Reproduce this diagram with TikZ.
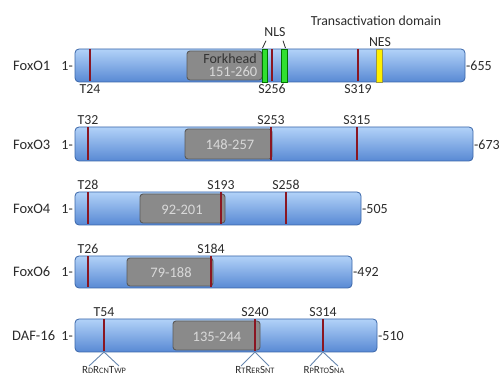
\documentclass[tikz,border=0pt]{standalone}
\usepackage{fontspec}
\setmainfont{Carlito}
\definecolor{barhi}{HTML}{B2D2F8}
\definecolor{barlo}{HTML}{5889D4}
\definecolor{barline}{HTML}{3A66A8}
\definecolor{fkfill}{HTML}{8A8A8A}
\definecolor{fkline}{HTML}{5A5A5A}
\definecolor{phos}{HTML}{8A1622}
\definecolor{nlsgreen}{HTML}{30E030}
\definecolor{nesyellow}{HTML}{FFF000}
\definecolor{motifblue}{HTML}{6787AE}
\definecolor{txt}{HTML}{2B2B2B}
\def\sm#1{{\fontsize{8.3}{8.3}\selectfont #1}}

\tikzset{
	protein/.style={draw=barline, line width=0.8pt, rounded corners=4pt, top color=barhi, bottom color=barlo},
	forkhead/.style={draw=fkline, line width=0.9pt, fill=fkfill, rounded corners=3pt},
	phosbar/.style={draw=phos, line width=2.8pt},
	nlsbox/.style={fill=nlsgreen, draw=green!45!black, line width=0.4pt},
	nesbox/.style={fill=nesyellow, draw=yellow!55!black, line width=0.4pt},
	protname/.style={anchor=west, inner sep=0pt, text=txt, font=\fontsize{14.5}{15}\selectfont},
	endlabel/.style={inner sep=0pt, text=txt, font=\fontsize{14}{14}\selectfont},
	sitelabel/.style={inner sep=1pt, text=txt, font=\fontsize{13.8}{14}\selectfont},
	rangetext/.style={inner sep=0pt, text=black!15, font=\fontsize{14.5}{15}\selectfont},
	motiflabel/.style={anchor=north, inner sep=0.5pt, text=txt, font=\fontsize{11}{11}\selectfont},
	motifline/.style={draw=motifblue, line width=0.9pt}
}

\begin{document}
\begin{tikzpicture}[x=1pt, y=-1pt]
		\useasboundingbox (0, 0) rectangle (501, 379);
		
		%%%%% FoxO1 %%%%%
		\node[protname] (nameA) at (13, 66) {FoxO1};
		\node[endlabel, anchor=east] (startA) at (73, 66) {1-};
		\draw[protein] (75, 49) rectangle (465, 82);
		\node[endlabel, anchor=west] (endA) at (466, 66) {-655};
		\draw[forkhead] (187, 51) rectangle (262, 80);
		\node[rangetext, text=black!80, font=\fontsize{14}{14}\selectfont] (fkA) at (230, 58.5) {Forkhead};
		\node[rangetext] (rangeA) at (233, 72) {151-260};
		\draw[nlsbox] (262, 49) rectangle (267, 82);
		\draw[nlsbox] (281, 49) rectangle (287, 82);
		\draw[nesbox] (376, 49) rectangle (382, 82);
		\draw[phosbar] (90, 49.5) -- (90, 81.5);
		\draw[phosbar] (272, 49.5) -- (272, 81.5);
		\draw[phosbar] (358, 49.5) -- (358, 81.5);
		\node[sitelabel, anchor=north] (tA) at (90, 83) {T24};
		\node[sitelabel, anchor=north] (sA) at (272, 83) {S256};
		\node[sitelabel, anchor=north] (sB) at (358, 83) {S319};
		
		\node[sitelabel] (trans) at (376, 21) {Transactivation domain};
		\node[sitelabel] (nes) at (380, 42) {NES};
		\node[sitelabel] (nls) at (275, 32) {NLS};
		\coordinate (nlsL) at (262.5, 48);
		\coordinate (nlsR) at (285.5, 48);
		\draw[line width=0.8pt, txt] ([xshift=-9pt, yshift=-3pt]nls.south) -- (nlsL);
		\draw[line width=0.8pt, txt] ([xshift=8pt, yshift=-3pt]nls.south) -- (nlsR);
		
		%%%%% FoxO3 %%%%%
		\node[protname] (nameB) at (13, 145) {FoxO3};
		\node[endlabel, anchor=east] (startB) at (73, 145) {1-};
		\draw[protein] (75, 127) rectangle (473, 161);
		\node[endlabel, anchor=west] (endB) at (474, 145) {-673};
		\draw[forkhead] (185, 129) rectangle (272, 159);
		\node[rangetext] (rangeB) at (230, 145) {148-257};
		\draw[phosbar] (88, 127.5) -- (88, 160.5);
		\draw[phosbar] (271, 127.5) -- (271, 160.5);
		\draw[phosbar] (357, 127.5) -- (357, 160.5);
		\node[sitelabel, anchor=south] (tB) at (88, 126) {T32};
		\node[sitelabel, anchor=south] (sC) at (271, 126) {S253};
		\node[sitelabel, anchor=south] (sD) at (357, 126) {S315};
		
		%%%%% FoxO4 %%%%%
		\node[protname] (nameC) at (13, 209) {FoxO4};
		\node[endlabel, anchor=east] (startC) at (73, 209) {1-};
		\draw[protein] (75, 192) rectangle (361, 225);
		\node[endlabel, anchor=west] (endC) at (362, 209) {-505};
		\draw[forkhead] (140, 194) rectangle (225, 223);
		\node[rangetext] (rangeC) at (182, 210) {92-201};
		\draw[phosbar] (88, 192.5) -- (88, 224.5);
		\draw[phosbar] (221, 192.5) -- (221, 224.5);
		\draw[phosbar] (286, 192.5) -- (286, 224.5);
		\node[sitelabel, anchor=south] (tC) at (88, 191) {T28};
		\node[sitelabel, anchor=south] (sE) at (221, 191) {S193};
		\node[sitelabel, anchor=south] (sF) at (286, 191) {S258};
		
		%%%%% FoxO6 %%%%%
		\node[protname] (nameD) at (13, 272) {FoxO6};
		\node[endlabel, anchor=east] (startD) at (73, 272) {1-};
		\draw[protein] (75, 256) rectangle (352, 288);
		\node[endlabel, anchor=west] (endD) at (353, 272) {-492};
		\draw[forkhead] (127, 258) rectangle (213, 286);
		\node[rangetext] (rangeD) at (171, 273) {79-188};
		\draw[phosbar] (88, 256.5) -- (88, 287.5);
		\draw[phosbar] (211, 256.5) -- (211, 287.5);
		\node[sitelabel, anchor=south] (tD) at (88, 255) {T26};
		\node[sitelabel, anchor=south] (sG) at (211, 255) {S184};
		
		%%%%% DAF-16 %%%%%
		\node[protname] (nameE) at (12, 336) {DAF-16};
		\node[endlabel, anchor=east] (startE) at (73, 336) {1-};
		\draw[protein] (75, 319) rectangle (377, 352);
		\node[endlabel, anchor=west] (endE) at (378, 336) {-510};
		\draw[forkhead] (173, 321) rectangle (260, 350);
		\node[rangetext] (rangeE) at (217, 337) {135-244};
		\draw[phosbar] (104, 319.5) -- (104, 351.5);
		\draw[phosbar] (255, 319.5) -- (255, 351.5);
		\draw[phosbar] (323, 319.5) -- (323, 351.5);
		\node[sitelabel, anchor=south] (tE) at (104, 318) {T54};
		\node[sitelabel, anchor=south] (sH) at (255, 318) {S240};
		\node[sitelabel, anchor=south] (sI) at (323, 318) {S314};
		
		\coordinate (pA) at (104, 352);
		\coordinate (pB) at (255, 352);
		\coordinate (pC) at (323, 352);
		\node[motiflabel] (motA) at (104, 366) {R\sm{D}R\sm{CN}T\sm{WP}};
		\node[motiflabel] (motB) at (255, 366) {R\sm{T}R\sm{ER}S\sm{NT}};
		\node[motiflabel] (motC) at (324, 366) {R\sm{P}R\sm{TO}S\sm{NA}};
		\draw[motifline] ([xshift=-15pt]motA.north) -- (pA) -- ([xshift=15pt]motA.north);
		\draw[motifline] ([xshift=-14pt]motB.north) -- (pB) -- ([xshift=14pt]motB.north);
		\draw[motifline] ([xshift=-14pt]motC.north) -- (pC) -- ([xshift=14pt]motC.north);
		
	\end{tikzpicture}
\end{document}
